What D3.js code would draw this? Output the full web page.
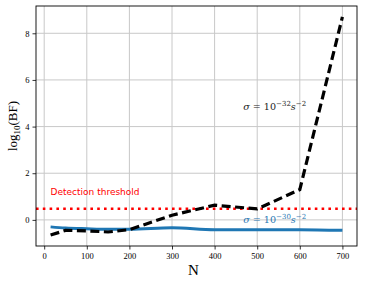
<!DOCTYPE html>
<html>
<head>
<meta charset="utf-8">
<script src="https://cdn.jsdelivr.net/npm/d3@7"></script>
<style>
  body { margin: 0; background: #fff; }
  svg { display: block; }
</style>
</head>
<body>
<svg id="chart"></svg>
<script>
const width = 365, height = 284;
const margin = {left: 36, right: 8, top: 6, bottom: 38};

// data
const nStrong = [15, 50, 100, 150, 200, 300, 400, 500, 600, 700];
const bfStrong = [-0.65, -0.45, -0.47, -0.52, -0.42, 0.2, 0.63, 0.47, 1.3, 8.7];
const nWeak = [15, 50, 100, 150, 200, 300, 400, 500, 600, 700];
const bfWeak = [-0.3, -0.35, -0.38, -0.4, -0.4, -0.34, -0.42, -0.42, -0.42, -0.45];
const threshold = Math.log10(3);
const xTicks = [0, 100, 200, 300, 400, 500, 600, 700];
const yTicks = [0, 2, 4, 6, 8];

const svg = d3.select('#chart')
    .attr('width', width)
    .attr('height', height);

const x = d3.scaleLinear().domain([-19.25, 734.25]).range([margin.left, width - margin.right]);
const y = d3.scaleLinear().domain([-1.12, 9.17]).range([height - margin.bottom, margin.top]);

// grid
const grid = svg.append('g');
grid.selectAll('.gx').data(xTicks).enter().append('line')
    .attr('x1', d => x(d)).attr('x2', d => x(d))
    .attr('y1', margin.top).attr('y2', height - margin.bottom)
    .attr('stroke', '#c8c8c8').attr('stroke-width', 1);
grid.selectAll('.gy').data(yTicks).enter().append('line')
    .attr('y1', d => y(d)).attr('y2', d => y(d))
    .attr('x1', margin.left).attr('x2', width - margin.right)
    .attr('stroke', '#c8c8c8').attr('stroke-width', 1);

const line = d3.line().x(d => x(d[0])).y(d => y(d[1]));

// threshold
svg.append('line')
    .attr('x1', margin.left).attr('x2', width - margin.right)
    .attr('y1', y(threshold)).attr('y2', y(threshold))
    .attr('stroke', 'red').attr('stroke-width', 2.6)
    .attr('stroke-dasharray', '2.6,4.2');

svg.append('path')
    .datum(d3.zip(nWeak, bfWeak))
    .attr('d', line.curve(d3.curveMonotoneX))
    .attr('fill', 'none').attr('stroke', '#1f77b4').attr('stroke-width', 3);

svg.append('path')
    .datum(d3.zip(nStrong, bfStrong))
    .attr('d', line.curve(d3.curveLinear))
    .attr('fill', 'none').attr('stroke', 'black').attr('stroke-width', 3.2)
    .attr('stroke-dasharray', '9,4.5');

// axes
const xAxis = svg.append('g')
    .attr('transform', `translate(0,${height - margin.bottom})`)
    .call(d3.axisBottom(x).tickValues(xTicks).tickSize(3.5).tickPadding(3));
const yAxis = svg.append('g')
    .attr('transform', `translate(${margin.left},0)`)
    .call(d3.axisLeft(y).tickValues(yTicks).tickSize(3.5).tickPadding(3));
[xAxis, yAxis].forEach(a => {
    a.select('.domain').remove();
    a.selectAll('text').attr('font-family', 'Liberation Serif, serif').attr('font-size', 8.5).attr('fill', '#000');
    a.selectAll('line').attr('stroke', '#000').attr('stroke-width', 0.8);
});

svg.append('rect')
    .attr('x', margin.left).attr('y', margin.top)
    .attr('width', width - margin.left - margin.right)
    .attr('height', height - margin.top - margin.bottom)
    .attr('fill', 'none').attr('stroke', '#000').attr('stroke-width', 0.9);

// labels
svg.append('text')
    .attr('x', x(350)).attr('y', 275)
    .attr('text-anchor', 'middle')
    .attr('font-family', 'Liberation Serif, serif').attr('font-size', 15)
    .text('N');

const yl = svg.append('text')
    .attr('transform', `translate(17,${(margin.top + height - margin.bottom) / 2}) rotate(-90)`)
    .attr('text-anchor', 'middle')
    .attr('font-family', 'Liberation Serif, serif').attr('font-size', 13);
yl.append('tspan').text('log');
yl.append('tspan').attr('font-size', 9).attr('dy', 3).text('10');
yl.append('tspan').attr('dy', -3).text('(BF)');

svg.append('text')
    .attr('x', x(15)).attr('y', y(1.05))
    .attr('font-family', 'DejaVu Sans, sans-serif').attr('font-size', 9)
    .attr('fill', 'red')
    .text('Detection threshold');

const sigmaLabel = (px, py, exp, color) => {
    const t = svg.append('text')
        .attr('x', px).attr('y', py)
        .attr('font-family', 'DejaVu Serif, serif').attr('font-size', 9.6)
        .attr('fill', color);
    t.append('tspan').attr('font-style', 'italic').text('σ');
    t.append('tspan').text(' = 10');
    t.append('tspan').attr('font-size', 7).attr('dy', -4).text('−' + exp);
    t.append('tspan').attr('font-style', 'italic').attr('dy', 4).text('s');
    t.append('tspan').attr('font-size', 7).attr('dy', -4).text('−2');
};
sigmaLabel(x(467), y(4.7), 32, '#222');
sigmaLabel(x(467), y(-0.12), 30, '#1f77b4');
</script>
</body>
</html>
